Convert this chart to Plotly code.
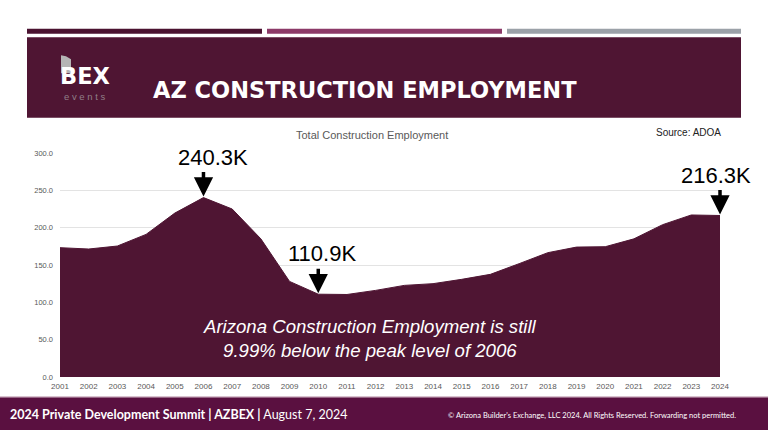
import plotly.graph_objects as go

years = list(range(2001, 2025))
employment = [173.2, 171.4, 175.4, 191.0, 219.5, 240.3, 225.0, 185.0, 128.0, 110.9,
              110.5, 116.0, 122.7, 125.0, 130.8, 137.5, 151.8, 166.5, 174.0, 174.5,
              185.0, 204.0, 217.0, 216.3]
y_ticks = [0, 50, 100, 150, 200, 250, 300]
callout_years = [2006, 2010, 2024]
callout_values = [240.3, 110.9, 216.3]
callout_labels = ["240.3K", "110.9K", "216.3K"]
callout_xshift = [10, 4, -4]

MAROON = "#4f1533"
FOOT = "#5a1040"

W, H = 768, 430
L, R = 60, 720
Y0, Y300 = 376.7, 152.7

def px(x):
    return (x - L) / (R - L)

def py(y):
    return (Y0 - y) / (Y0 - Y300)

fig = go.Figure()
fig.add_trace(go.Scatter(
    x=years, y=employment, mode="lines", fill="tozeroy",
    line=dict(color=MAROON, width=1), fillcolor=MAROON, hoverinfo="skip"))

shapes = []
# top stripes
for x0, x1, c in [(27, 262, "#4a1230"), (267, 502, "#8c3a68"), (507, 741, "#9ba1a8")]:
    shapes.append(dict(type="rect", xref="paper", yref="paper", x0=px(x0), x1=px(x1),
                       y0=py(33.5), y1=py(28.5), line_width=0, fillcolor=c, layer="above"))
# header band
shapes.append(dict(type="rect", xref="paper", yref="paper", x0=px(27), x1=px(741),
                   y0=py(117.5), y1=py(37), line_width=0, fillcolor=MAROON, layer="above"))
# logo building
shapes.append(dict(type="path", xref="paper", yref="paper",
                   path=f"M {px(61)} {py(73)} L {px(61)} {py(55)} L {px(66)} {py(56)} L {px(71)} {py(59)} L {px(71)} {py(73)} Z",
                   line_width=0, fillcolor="#b5b5b5", layer="above"))
# footer band
shapes.append(dict(type="rect", xref="paper", yref="paper", x0=px(0), x1=px(768),
                   y0=py(430), y1=py(397), line_width=0, fillcolor=FOOT, layer="above"))
shapes.append(dict(type="line", xref="paper", yref="paper", x0=px(0), x1=px(768),
                   y0=py(396.5), y1=py(396.5), line=dict(color="#c9a9bb", width=1), layer="above"))

ann = []
ann.append(dict(text="AZ CONSTRUCTION EMPLOYMENT", xref="paper", yref="paper",
                x=px(365), y=py(90), xanchor="center", yanchor="middle", showarrow=False,
                font=dict(family="DejaVu Sans", size=22.5, color="white", weight="bold")))
ann.append(dict(text="BEX", xref="paper", yref="paper", x=px(84.5), y=py(76),
                xanchor="center", yanchor="middle", showarrow=False,
                font=dict(family="DejaVu Sans", size=22.5, color="white", weight="bold")))
ann.append(dict(text="e v e n t s", xref="paper", yref="paper", x=px(84.5), y=py(96),
                xanchor="center", yanchor="middle", showarrow=False,
                font=dict(family="Liberation Sans", size=9.5, color="#8f7f88")))
ann.append(dict(text="Total Construction Employment", xref="paper", yref="paper",
                x=px(372), y=py(135), xanchor="center", yanchor="middle", showarrow=False,
                font=dict(family="Liberation Sans", size=11, color="#595959")))
ann.append(dict(text="Source: ADOA", xref="paper", yref="paper",
                x=px(688), y=py(132), xanchor="center", yanchor="middle", showarrow=False,
                font=dict(family="Liberation Sans", size=10, color="#222222")))
for xv, yv, t, xs in zip(callout_years, callout_values, callout_labels, callout_xshift):
    # vertical arrow pointing at the value
    ann.append(dict(text="", x=xv, y=yv, xref="x", yref="y", showarrow=True,
                    ax=0, ay=-27, arrowhead=2, arrowsize=1.1, arrowwidth=3.5,
                    arrowcolor="black", standoff=1))
    # value label above the arrow
    ann.append(dict(text=t, x=xv, y=yv, xref="x", yref="y", showarrow=False,
                    xshift=xs, yshift=26, yanchor="bottom", xanchor="center",
                    font=dict(family="Liberation Sans", size=22, color="black")))
ann.append(dict(text="<i>Arizona Construction Employment is still<br>9.99% below the peak level of 2006</i>",
                xref="paper", yref="paper", x=px(370), y=py(338), xanchor="center",
                yanchor="middle", showarrow=False, align="center",
                font=dict(family="Liberation Sans", size=18.6, color="white")))
ann.append(dict(text="<b>2024 Private Development Summit | AZBEX |</b> August 7, 2024",
                xref="paper", yref="paper", x=px(8), y=py(414), xanchor="left",
                yanchor="middle", showarrow=False,
                font=dict(family="Lato", size=12.5, color="white")))
ann.append(dict(text="© Arizona Builder's Exchange, LLC 2024. All Rights Reserved. Forwarding not permitted.",
                xref="paper", yref="paper", x=px(738), y=py(415), xanchor="right",
                yanchor="middle", showarrow=False,
                font=dict(family="Lato", size=7.5, color="white")))

fig.update_layout(
    width=W, height=H,
    margin=dict(l=L, r=W - R, t=Y300, b=H - Y0),
    paper_bgcolor="white", plot_bgcolor="white",
    showlegend=False, shapes=shapes, annotations=ann,
    xaxis=dict(range=[2001, 2024], tickmode="array", tickvals=years,
               ticktext=[str(y) for y in years], showgrid=False, zeroline=False,
               showline=False, ticks="", ticklabelstandoff=3,
               tickfont=dict(family="Liberation Sans Narrow, Liberation Sans", size=8, color="#595959"),
               fixedrange=True),
    yaxis=dict(range=[0, 300], tickvals=y_ticks, ticktext=[f"{v:.1f}" for v in y_ticks],
               showgrid=True, gridcolor="#e3e3e3", gridwidth=1, zeroline=False,
               ticks="", ticklabelstandoff=6,
               tickfont=dict(family="Liberation Sans", size=7.5, color="#595959"),
               fixedrange=True),
)

fig.write_html("out.html", post_script="document.body.style.margin='0';",
               config={"displayModeBar": False})
